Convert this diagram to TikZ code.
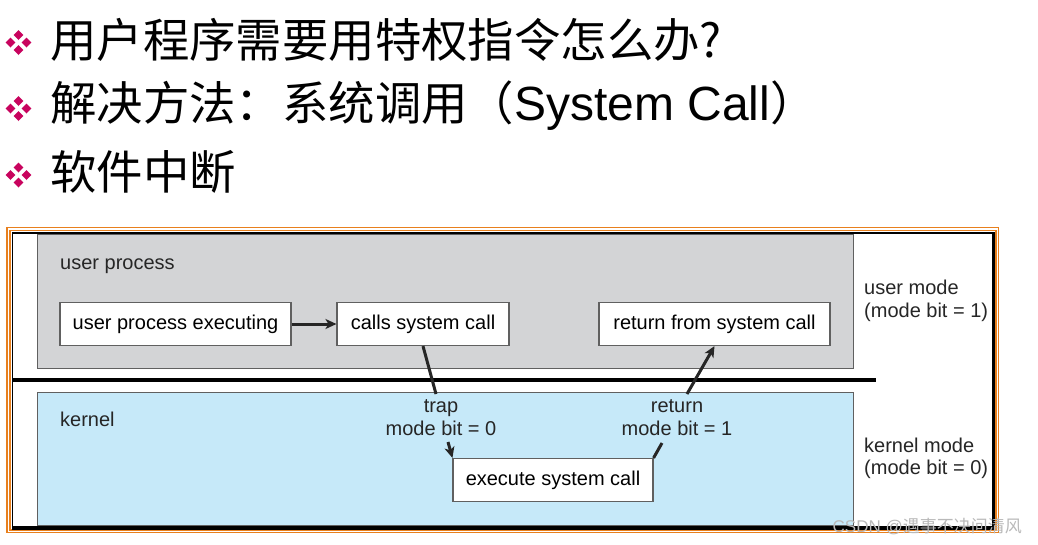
\documentclass[tikz,border=0pt]{standalone}
\usepackage{fontspec}
\setmainfont{Liberation Sans}
\newfontfamily\cjk{Noto Sans CJK SC}
\usetikzlibrary{arrows.meta}
\definecolor{bulcol}{HTML}{C8045E}
\definecolor{framecol}{HTML}{E8801E}
\definecolor{grayfill}{HTML}{D3D4D6}
\definecolor{bluefill}{HTML}{C6E9F9}
\definecolor{boxline}{HTML}{606060}
\tikzset{
  bul/.pic={
    \foreach \dx/\dy in {0/-7.5,-8/0,8/0,0/7.5}{
      \fill[bulcol] (\dx,\dy-5) -- (\dx+4.8,\dy) -- (\dx,\dy+5) -- (\dx-4.8,\dy) -- cycle;
    }
  },
  title/.style={anchor=west, inner sep=0pt, font=\cjk\fontsize{46.4}{50}\selectfont},
  region/.style={draw=boxline, line width=0.9pt, inner sep=0pt},
  stepbox/.style={draw=boxline, fill=white, line width=1.1pt, inner sep=0pt,
    minimum height=43pt, font=\fontsize{20}{22.5}\selectfont},
  lbl/.style={inner sep=0pt, font=\fontsize{20}{22.5}\selectfont, text=black!85},
  conn/.style={line width=3pt, black!85},
  arr/.style={conn, -{Stealth[length=11pt,width=10pt,inset=3pt]}}
}
\begin{document}
\begin{tikzpicture}[x=1pt,y=-1pt]
\useasboundingbox (0,0) rectangle (1038,544);
\fill[white] (0,0) rectangle (1038,544);
% bullets
\pic at (18.5,42.5) {bul};
\pic at (18.5,108.5) {bul};
\pic at (18.5,175) {bul};
% title lines
\node[title] (t1) at (50,40) {用户程序需要用特权指令怎么办?};
\node[title] (t2) at (50,106) {解决方法：系统调用（{\fontspec{Liberation Sans}\fontsize{48}{50}\selectfont System Call}）};
\node[title] (t3) at (50,172) {软件中断};
% frame
\draw[framecol, line width=1.5pt] (7,227.5) rectangle (998.5,532.5);
\draw[framecol, line width=1.5pt] (10,230.5) rectangle (996,530);
\draw[black, line width=1.6pt] (12.5,233) rectangle (993,527);
\draw[black, line width=3pt] (993,232) -- (993,528) -- (12,528);
% regions
\node[region, fill=grayfill, minimum width=816pt, minimum height=134pt] (ur) at (445,301) {};
\node[region, fill=bluefill, minimum width=816pt, minimum height=133pt] (kr) at (445,458.5) {};
\draw[black, line width=3.2pt] (12,380) -- (876,380);
% region labels
\node[lbl, anchor=base west] (upl) at (60,269) {user process};
\node[lbl, anchor=base west] (kl) at (60,426) {kernel};
% step boxes
\node[stepbox, minimum width=231pt] (upe) at (175.5,324) {user process executing};
\node[stepbox, minimum width=172pt] (csc) at (423,324) {calls system call};
\node[stepbox, minimum width=231pt] (rfsc) at (714.5,324) {return from system call};
\node[stepbox, minimum width=200pt] (esc) at (553,480) {execute system call};
% connector labels
\node[lbl, align=center, anchor=base] (trapl) at (441,435) {trap\\mode bit = 0};
\node[lbl, align=center, anchor=base] (retl) at (677,435) {return\\mode bit = 1};
% mode labels
\node[lbl, align=left, anchor=base west] (um) at (864,317) {user mode\\(mode bit = 1)};
\node[lbl, align=left, anchor=base west] (km) at (864,474.5) {kernel mode\\(mode bit = 0)};
% connectors
\coordinate (trapa) at (436,394);
\coordinate (trapb) at (448,442);
\coordinate (reta) at (687,394);
\coordinate (retb) at (662,443);
\draw[arr] (upe.east) -- (csc.west);
\draw[conn] (csc.south) -- (trapa);
\draw[arr] (trapb) -- (esc.north west);
\draw[conn] (esc.north east) -- (retb);
\draw[arr] (reta) -- (rfsc.south);
% watermark
\node[anchor=east, inner sep=0pt, text=gray!55, font=\fontsize{17}{18}\selectfont] (wm) at (1022,527) {CSDN @{\cjk 遇事不决问清风}};
\end{tikzpicture}
\end{document}
